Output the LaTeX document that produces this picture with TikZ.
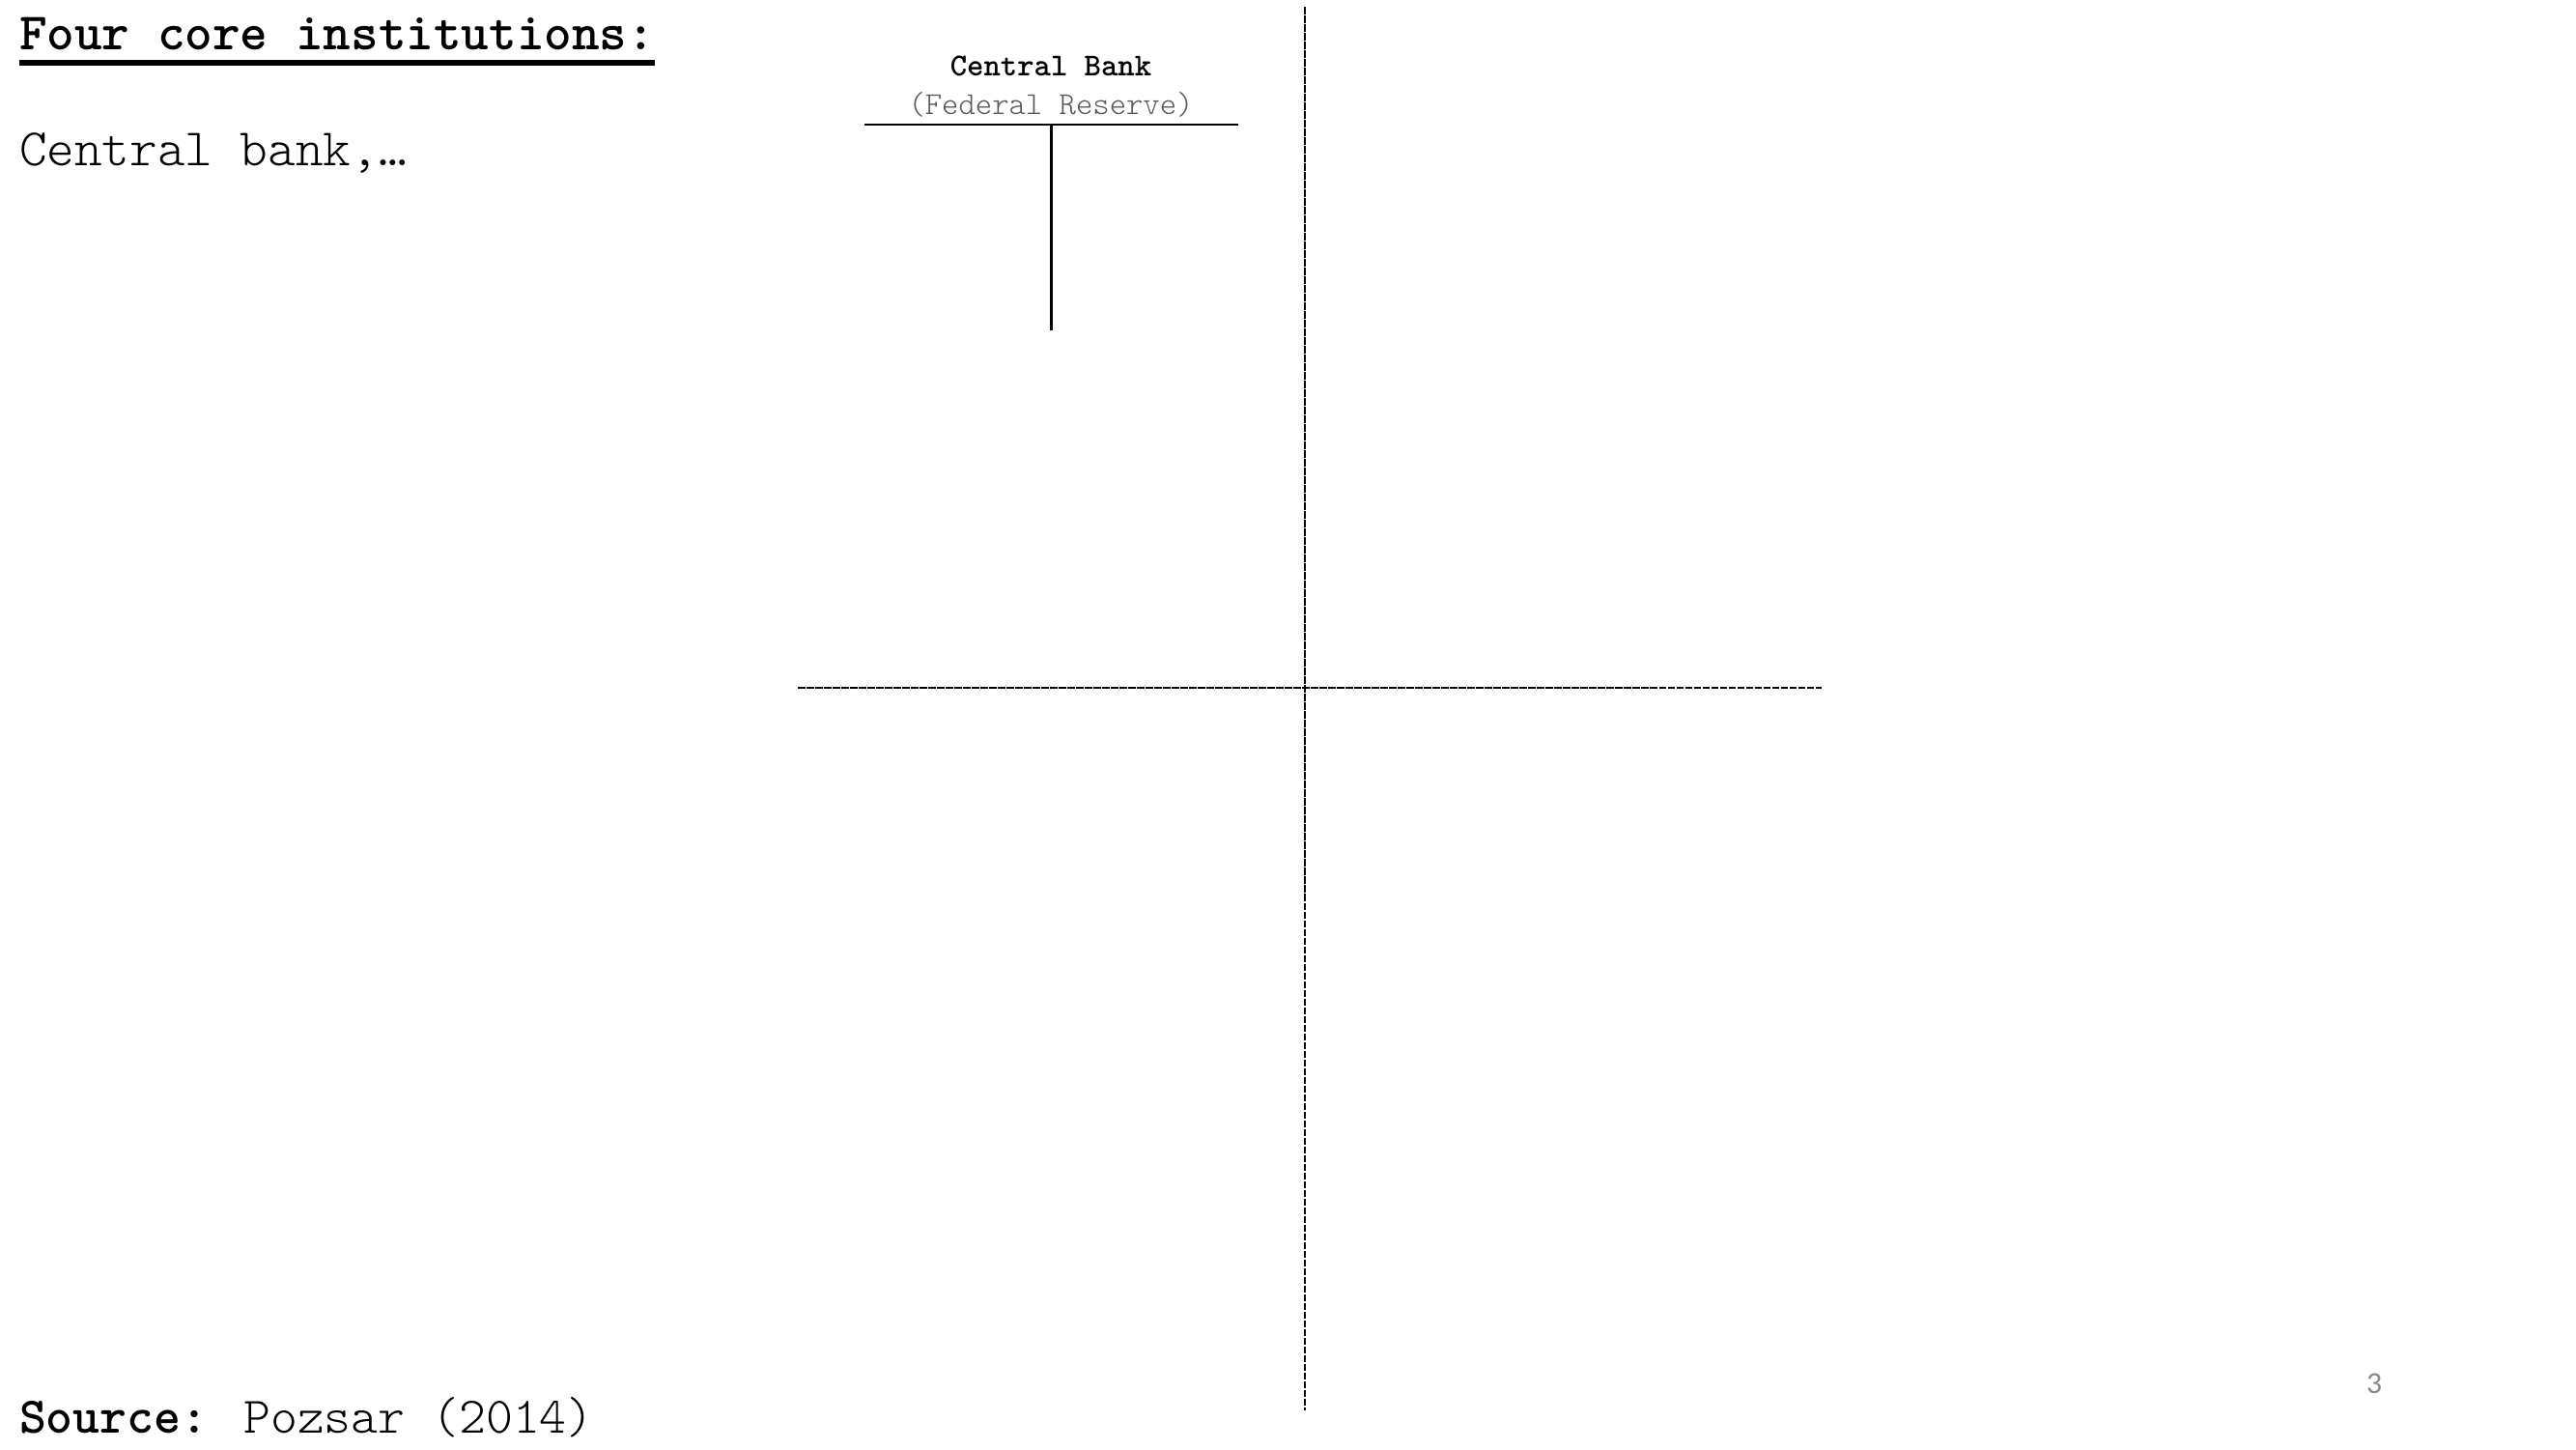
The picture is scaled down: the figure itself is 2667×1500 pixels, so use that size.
\documentclass[tikz,border=0pt]{standalone}
\usepackage{fontspec}
\newfontfamily\slidesans{Carlito}
\newcommand{\monolight}{\ttfamily\fontseries{l}\selectfont}
\newcommand{\monobold}{\ttfamily\fontseries{b}\selectfont}
\definecolor{fedgray}{HTML}{595959}
\definecolor{pagegray}{HTML}{898989}
\begin{document}
\begin{tikzpicture}[x=0.01cm,y=-0.01cm,
  bigtext/.style={inner sep=0pt,outer sep=0pt,anchor=base west,font=\fontsize{15.5pt}{18pt}\monolight},
  smalltext/.style={inner sep=0pt,outer sep=0pt,anchor=base,font=\fontsize{9.4pt}{11pt}\monolight},
  tline/.style={line width=0.85pt},
  crossline/.style={line width=0.75pt,dash pattern=on 0.075cm off 0.015cm}]
\useasboundingbox (0,0) rectangle (2667,1500);
% texts
\node[bigtext] (title) at (20,52) {\monobold Four core institutions:};
\draw[line width=1.7pt] ([yshift=-13*0.01cm]title.base west) coordinate (ul1) -- ([yshift=-13*0.01cm]title.base east) coordinate (ul2);
\node[bigtext] (cb) at (20,172) {Central bank,…};
\node[bigtext,font=\fontsize{15.1pt}{18pt}\monolight] (src) at (20,1483) {{\monobold Source:} Pozsar (2014)};
\node[smalltext] (cbank) at (1088,79) {\monobold Central Bank};
\node[smalltext,text=fedgray] (fed) at (1088,119) {(Federal Reserve)};
\node[inner sep=0pt,anchor=base,text=pagegray,font=\slidesans\fontsize{9pt}{11pt}\selectfont] (pg) at (2458,1442) {3};
% T account
\coordinate (tl) at (895,129);
\coordinate (tr) at (1282,129);
\coordinate (tt) at (1088,129);
\coordinate (tb) at (1088,342);
\draw[tline] (tl) -- (tr);
\draw[tline] (tt) -- (tb);
% dashed cross
\coordinate (vt) at (1351,7);
\coordinate (vb) at (1351,1460);
\coordinate (hl) at (826,712);
\coordinate (hr) at (1886,712);
\draw[crossline] (vt) -- (vb);
\draw[crossline] (hl) -- (hr);
\end{tikzpicture}
\end{document}
